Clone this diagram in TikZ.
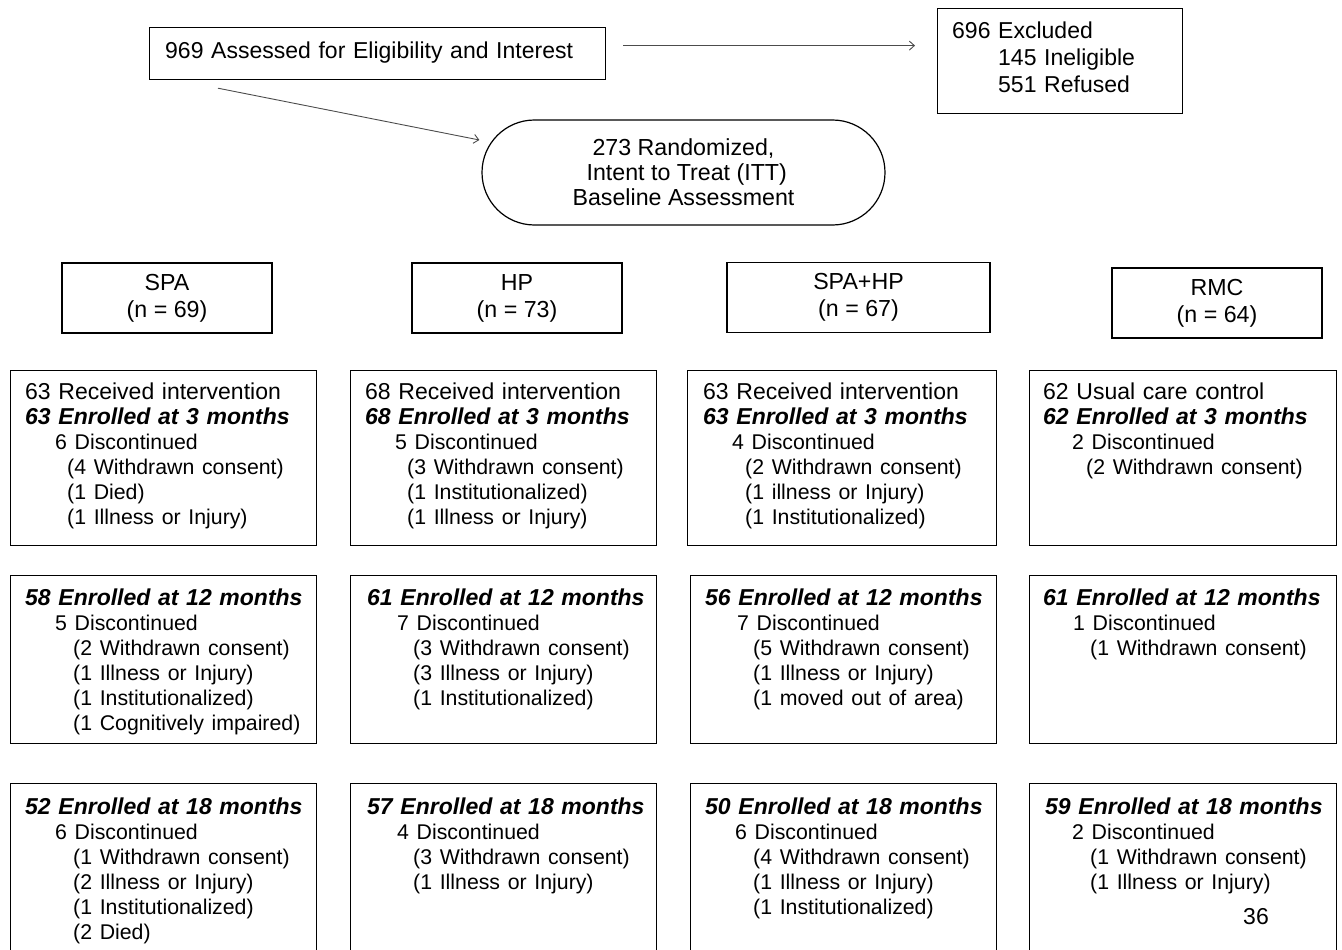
\documentclass[tikz,border=0pt]{standalone}
\usepackage{fontspec}
\setmainfont{Liberation Sans}
\usetikzlibrary{arrows.meta,shapes.misc,calc}
\newcommand\BI[1]{{\bfseries\itshape #1}}
\newcommand\sm{\fontsize{21.3}{25}\selectfont}
\newcommand\iA{\hspace*{30pt}}
\newcommand\iB{\hspace*{42pt}}
\newcommand\iC{\hspace*{48pt}}
\begin{document}
\begin{tikzpicture}[x=1pt,y=-1pt,
  box/.style={draw,line width=1.2pt,inner sep=0pt,anchor=north west},
  txt/.style={anchor=north west,inner sep=0pt,align=left,text width=300pt,
    font=\fontsize{23}{25}\selectfont},
  grp/.style={draw,line width=1.2pt,minimum width=210pt,minimum height=70pt,
    align=center,inner sep=0pt,font=\fontsize{23.2}{27}\selectfont},
  arr/.style={draw=black!70,line width=0.9pt,-{Straight Barb[length=5pt,width=9pt]}}]
\useasboundingbox (0,0) rectangle (1342,950);
\clip (0,0) rectangle (1342,950);

% top
\node[box,minimum width=456pt,minimum height=52pt] (assess) at (149,27) {};
\node[txt,text width=440pt] (assesst) at ([shift={(16,14)}]assess.north west)
  {\strut 969 Assessed for Eligibility and Interest};
\node[box,minimum width=245pt,minimum height=105pt] (excl) at (937,8) {};
\node[txt,font=\fontsize{23}{27}\selectfont] (exclt) at ([shift={(15,11.5)}]excl.north west)
  {\strut 696 Excluded\\\hspace*{46pt}145 Ineligible\\\hspace*{46pt}551 Refused};
\node[rounded rectangle,draw,line width=1.2pt,minimum width=403pt,minimum height=105pt,
  inner sep=0pt,align=center,font=\fontsize{23.2}{25}\selectfont] (rand) at (683.5,172.5)
  {273 Randomized,\\ \ Intent to Treat (ITT)\\Baseline Assessment};

\coordinate (a1) at ([yshift=8pt]assess.east);
\draw[arr,shorten <=17pt,shorten >=22pt] (a1) -- (a1 -| excl.west);
\draw[arr] ([shift={(69,8)}]assess.south west) -- ([shift={(-2,-32.5)}]rand.west);

% groups
\node[grp] (spa) at (167,298) {SPA\\(n = 69)};
\node[grp] (hp) at (517,298) {HP\\(n = 73)};
\node[grp,minimum width=263pt] (spahp) at (858.5,297.5) {SPA+HP\\(n = 67)};
\node[grp] (rmc) at (1217,303) {RMC\\(n = 64)};

% row 1
\node[box,minimum width=306pt,minimum height=175pt] (b11) at (10,370) {};
\node[box,minimum width=306pt,minimum height=175pt] (b12) at (350,370) {};
\node[box,minimum width=309pt,minimum height=175pt] (b13) at (687,370) {};
\node[box,minimum width=307pt,minimum height=175pt] (b14) at (1029,370) {};
\node[txt] (t11) at ([shift={(15,11.5)}]b11.north west)
  {\strut 63 Received intervention\\\BI{63 Enrolled at 3 months}\\\sm\iA 6 Discontinued\\
   \iB(4 Withdrawn consent)\\\iB(1 Died)\\\iB(1 Illness or Injury)};
\node[txt] (t12) at ([shift={(15,11.5)}]b12.north west)
  {\strut 68 Received intervention\\\BI{68 Enrolled at 3 months}\\\sm\iA 5 Discontinued\\
   \iB(3 Withdrawn consent)\\\iB(1 Institutionalized)\\\iB(1 Illness or Injury)};
\node[txt] (t13) at ([shift={(16,11.5)}]b13.north west)
  {\strut 63 Received intervention\\\BI{63 Enrolled at 3 months}\\\sm\hspace*{29pt}4 Discontinued\\
   \iB(2 Withdrawn consent)\\\iB(1 illness or Injury)\\\iB(1 Institutionalized)};
\node[txt] (t14) at ([shift={(14,11.5)}]b14.north west)
  {\strut 62 Usual care control\\\BI{62 Enrolled at 3 months}\\\sm\hspace*{29pt}2 Discontinued\\
   \hspace*{43pt}(2 Withdrawn consent)};

% row 2
\node[box,minimum width=306pt,minimum height=168pt] (b21) at (10,575) {};
\node[box,minimum width=306pt,minimum height=168pt] (b22) at (350,575) {};
\node[box,minimum width=306pt,minimum height=168pt] (b23) at (690,575) {};
\node[box,minimum width=307pt,minimum height=168pt] (b24) at (1029,575) {};
\node[txt] (t21) at ([shift={(15,12.5)}]b21.north west)
  {\strut\BI{58 Enrolled at 12 months}\\\sm\iA 5 Discontinued\\
   \iC(2 Withdrawn consent)\\\iC(1 Illness or Injury)\\\iC(1 Institutionalized)\\\iC(1 Cognitively impaired)};
\node[txt] (t22) at ([shift={(17,12.5)}]b22.north west)
  {\strut\BI{61 Enrolled at 12 months}\\\sm\iA 7 Discontinued\\
   \hspace*{46pt}(3 Withdrawn consent)\\\hspace*{46pt}(3 Illness or Injury)\\\hspace*{46pt}(1 Institutionalized)};
\node[txt] (t23) at ([shift={(15,12.5)}]b23.north west)
  {\strut\BI{56 Enrolled at 12 months}\\\sm\hspace*{32pt}7 Discontinued\\
   \iC(5 Withdrawn consent)\\\iC(1 Illness or Injury)\\\iC(1 moved out of area)};
\node[txt] (t24) at ([shift={(14,12.5)}]b24.north west)
  {\strut\BI{61 Enrolled at 12 months}\\\sm\iA 1 Discontinued\\
   \hspace*{47pt}(1 Withdrawn consent)};

% row 3
\node[box,minimum width=306pt,minimum height=180pt] (b31) at (10,783) {};
\node[box,minimum width=306pt,minimum height=180pt] (b32) at (350,783) {};
\node[box,minimum width=306pt,minimum height=180pt] (b33) at (690,783) {};
\node[box,minimum width=307pt,minimum height=180pt] (b34) at (1029,783) {};
\node[txt] (t31) at ([shift={(15,13.5)}]b31.north west)
  {\strut\BI{52 Enrolled at 18 months}\\\sm\iA 6 Discontinued\\
   \iC(1 Withdrawn consent)\\\iC(2 Illness or Injury)\\\iC(1 Institutionalized)\\\iC(2 Died)};
\node[txt] (t32) at ([shift={(17,13.5)}]b32.north west)
  {\strut\BI{57 Enrolled at 18 months}\\\sm\iA 4 Discontinued\\
   \hspace*{46pt}(3 Withdrawn consent)\\\hspace*{46pt}(1 Illness or Injury)};
\node[txt] (t33) at ([shift={(15,13.5)}]b33.north west)
  {\strut\BI{50 Enrolled at 18 months}\\\sm\hspace*{30pt}6 Discontinued\\
   \iC(4 Withdrawn consent)\\\iC(1 Illness or Injury)\\\iC(1 Institutionalized)};
\node[txt] (t34) at ([shift={(16,13.5)}]b34.north west)
  {\strut\BI{59 Enrolled at 18 months}\\\sm\hspace*{27pt}2 Discontinued\\
   \hspace*{45pt}(1 Withdrawn consent)\\\hspace*{45pt}(1 Illness or Injury)};
\node[font=\fontsize{23}{25}\selectfont,inner sep=0pt] (page) at (1256,917) {36};
\end{tikzpicture}
\end{document}
